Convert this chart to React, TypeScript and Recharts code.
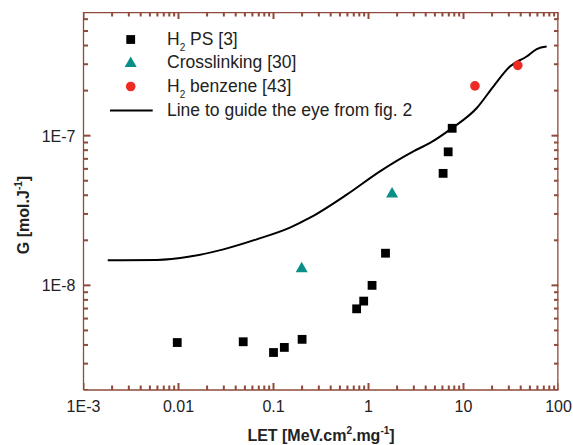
import { ComposedChart, Scatter, XAxis, YAxis } from "recharts";

// LET [MeV.cm2.mg-1] / G [mol.J-1]
const psLet = [0.0097, 0.048, 0.1, 0.13, 0.2, 0.75, 0.89, 1.09, 1.51, 6.1, 6.9, 7.6];
const psG = [4.15e-9, 4.2e-9, 3.56e-9, 3.85e-9, 4.36e-9, 6.97e-9, 7.85e-9, 1.0e-8, 1.64e-8, 5.6e-8, 7.8e-8, 1.12e-7];

const crossLet = [0.198, 1.77];
const crossG = [1.31e-8, 4.14e-8];

const benzLet = [13.2, 37.3];
const benzG = [2.15e-7, 2.95e-7];

const guideLet = [0.0018, 0.0059, 0.0132, 0.0297, 0.0665, 0.149, 0.242, 0.59, 1.32, 2.97, 4.44, 7.38, 13.8, 20.6, 30.8, 46.2, 59, 75];
const guideG = [1.47e-8, 1.48e-8, 1.56e-8, 1.74e-8, 2.03e-8, 2.43e-8, 2.83e-8, 4.04e-8, 5.78e-8, 7.86e-8, 8.94e-8, 1.11e-7, 1.53e-7, 2.13e-7, 2.9e-7, 3.38e-7, 3.79e-7, 3.94e-7];

const xMajor = [0.001, 0.01, 0.1, 1, 10, 100];
const xLabels = ["1E-3", "0.01", "0.1", "1", "10", "100"];
const yMajor = [1e-8, 1e-7];
const yLabels = ["1E-8", "1E-7"];
const yDecades = [1e-9, 1e-8, 1e-7];

const X_DOMAIN = [0.001, 100];
const Y_DOMAIN = [2e-9, 6.7e-7];

const FRAME = "#8e4a3b";
const FONT = "'Liberation Sans', Arial, sans-serif";

const zip = (xs: number[], ys: number[]) => xs.map((x, i) => ({ x, y: ys[i] }));
const psData = zip(psLet, psG);
const crossData = zip(crossLet, crossG);
const benzData = zip(benzLet, benzG);
const guideData = zip(guideLet, guideG);

// top and right sides of the frame
const frameData = [
  { x: X_DOMAIN[0], y: Y_DOMAIN[1] },
  { x: X_DOMAIN[1], y: Y_DOMAIN[1] },
  { x: X_DOMAIN[1], y: Y_DOMAIN[0] },
];

// minor ticks 2..9 of each decade, inside the domain
const minors = (decades: number[], domain: number[]) =>
  decades
    .flatMap((m) => [2, 3, 4, 5, 6, 7, 8, 9].map((k) => +(m * k).toPrecision(3)))
    .filter((v) => v > domain[0] * 0.999 && v < domain[1] * 1.001);

const xMinor = minors(xMajor.slice(0, -1), X_DOMAIN);
const yMinor = minors(yDecades, Y_DOMAIN);

// tick marks sitting on the frame, placed through the axis scales
const onBottom = (xs: number[]) => xs.map((x) => ({ x, y: Y_DOMAIN[0] }));
const onTop = (xs: number[]) => xs.map((x) => ({ x, y: Y_DOMAIN[1] }));
const onLeft = (ys: number[]) => ys.map((y) => ({ x: X_DOMAIN[0], y }));
const onRight = (ys: number[]) => ys.map((y) => ({ x: X_DOMAIN[1], y }));

const TW = 2;
const tickShape = (dir: "up" | "down" | "right" | "left", len: number) => ({ cx, cy }: any) => {
  if (dir === "up") return <rect x={cx - TW / 2} y={cy - len} width={TW} height={len} fill={FRAME} />;
  if (dir === "down") return <rect x={cx - TW / 2} y={cy} width={TW} height={len} fill={FRAME} />;
  if (dir === "right") return <rect x={cx} y={cy - TW / 2} width={len} height={TW} fill={FRAME} />;
  return <rect x={cx - len} y={cy - TW / 2} width={len} height={TW} fill={FRAME} />;
};

const tickSeries = [
  { key: "bM", data: onBottom(xMajor), shape: tickShape("up", 7) },
  { key: "bm", data: onBottom(xMinor), shape: tickShape("up", 4.5) },
  { key: "tM", data: onTop(xMajor), shape: tickShape("down", 7) },
  { key: "tm", data: onTop(xMinor), shape: tickShape("down", 4.5) },
  { key: "lM", data: onLeft(yMajor), shape: tickShape("right", 7) },
  { key: "lm", data: onLeft(yMinor), shape: tickShape("right", 4.5) },
  { key: "rM", data: onRight(yMajor), shape: tickShape("left", 7) },
  { key: "rm", data: onRight(yMinor), shape: tickShape("left", 4.5) },
];

const labelOf = (v: number, majors: number[], labels: string[]) =>
  labels[majors.findIndex((m) => Math.abs(v / m - 1) < 1e-6)] ?? "";

const BottomLabel = ({ x, y, payload }: any) => (
  <text x={x} y={y + 22} textAnchor="middle" fontSize={16} fill="#222" fontFamily={FONT}>
    {labelOf(payload.value, xMajor, xLabels)}
  </text>
);

const LeftLabel = ({ x, y, payload }: any) => (
  <text x={x - 8} y={y + 6} textAnchor="end" fontSize={16} fill="#222" fontFamily={FONT}>
    {labelOf(payload.value, yMajor, yLabels)}
  </text>
);

const Square = ({ cx, cy }: any) => <rect x={cx - 4.4} y={cy - 4.4} width={8.8} height={8.8} fill="#000" />;
const Triangle = ({ cx, cy }: any) => (
  <polygon points={`${cx},${cy - 6} ${cx + 6},${cy + 4.5} ${cx - 6},${cy + 4.5}`} fill="#0a8f88" />
);
const Dot = ({ cx, cy }: any) => <circle cx={cx} cy={cy} r={4.8} fill="#ee2a24" />;
const NoDot = () => <g />;

const XTitle = ({ viewBox }: any) => (
  <text
    x={viewBox.x + viewBox.width / 2}
    y={viewBox.y + 51}
    textAnchor="middle"
    fontSize={16}
    fontWeight="bold"
    fill="#222"
    fontFamily={FONT}
  >
    LET [MeV.cm<tspan dy={-7} fontSize={10}>2</tspan>
    <tspan dy={7}>.mg</tspan>
    <tspan dy={-7} fontSize={10}>-1</tspan>
    <tspan dy={7}>]</tspan>
  </text>
);

const YTitle = () => (
  <text
    x={29}
    y={215}
    transform="rotate(-90, 29, 215)"
    textAnchor="middle"
    fontSize={16}
    fontWeight="bold"
    fill="#222"
    fontFamily={FONT}
  >
    G [mol.J<tspan dy={-7} fontSize={10}>-1</tspan>
    <tspan dy={7}>]</tspan>
  </text>
);

function Sub({ children }: { children: any }) {
  return <span style={{ fontSize: 10, position: "relative", top: 6 }}>{children}</span>;
}

const legendRows = [
  { key: "ps", marker: "square", text: <>H<Sub>2</Sub> PS [3]</> },
  { key: "cross", marker: "triangle", text: <>Crosslinking [30]</> },
  { key: "benz", marker: "circle", text: <>H<Sub>2</Sub> benzene [43]</> },
  { key: "guide", marker: "line", text: <>Line to guide the eye from fig. 2</> },
];

const LegendMarker = ({ type }: { type: string }) => (
  <svg width={59} height={23} style={{ flex: "none" }}>
    {type === "square" && <Square cx={22.7} cy={11.5} />}
    {type === "triangle" && <Triangle cx={22.7} cy={11.5} />}
    {type === "circle" && <Dot cx={22.7} cy={11.5} />}
    {type === "line" && <line x1={2} x2={44.7} y1={11.5} y2={11.5} stroke="#000" strokeWidth={2} />}
  </svg>
);

const LegendBox = () => (
  <div style={{ position: "absolute", left: 108, top: 27.5, fontFamily: FONT, fontSize: 17.5, color: "#222" }}>
    {legendRows.map((r) => (
      <div key={r.key} style={{ display: "flex", alignItems: "center", height: 23.6, whiteSpace: "nowrap" }}>
        <LegendMarker type={r.marker} />
        <span>{r.text}</span>
      </div>
    ))}
  </div>
);

export default function App() {
  return (
    <div style={{ position: "absolute", left: 0, top: 0, width: 573, height: 445, background: "#fff" }}>
      <ComposedChart width={573} height={445} margin={{ top: 12, right: 14.5, bottom: 15, left: 23.5 }}>
        <XAxis
          xAxisId="b"
          dataKey="x"
          type="number"
          scale="log"
          domain={X_DOMAIN}
          allowDataOverflow
          ticks={xMajor}
          interval={0}
          height={40}
          tickSize={0}
          tickMargin={0}
          tickLine={false}
          tick={BottomLabel}
          axisLine={{ stroke: FRAME, strokeWidth: 1.3 }}
          label={<XTitle />}
        />
        <YAxis
          yAxisId="l"
          dataKey="y"
          type="number"
          scale="log"
          domain={Y_DOMAIN}
          allowDataOverflow
          ticks={yMajor}
          interval={0}
          width={60}
          tickSize={0}
          tickMargin={0}
          tickLine={false}
          tick={LeftLabel}
          axisLine={{ stroke: FRAME, strokeWidth: 1.3 }}
          label={<YTitle />}
        />

        <Scatter
          xAxisId="b"
          yAxisId="l"
          data={frameData}
          line={{ stroke: FRAME, strokeWidth: 2.6 }}
          shape={NoDot}
          isAnimationActive={false}
        />
        {tickSeries.map((t) => (
          <Scatter key={t.key} xAxisId="b" yAxisId="l" data={t.data} shape={t.shape} isAnimationActive={false} />
        ))}

        <Scatter
          xAxisId="b"
          yAxisId="l"
          data={guideData}
          line={{ stroke: "#000", strokeWidth: 2 }}
          lineJointType="monotoneX"
          shape={NoDot}
          isAnimationActive={false}
        />
        <Scatter xAxisId="b" yAxisId="l" data={psData} shape={Square} isAnimationActive={false} />
        <Scatter xAxisId="b" yAxisId="l" data={crossData} shape={Triangle} isAnimationActive={false} />
        <Scatter xAxisId="b" yAxisId="l" data={benzData} shape={Dot} isAnimationActive={false} />
      </ComposedChart>
      <LegendBox />
    </div>
  );
}
